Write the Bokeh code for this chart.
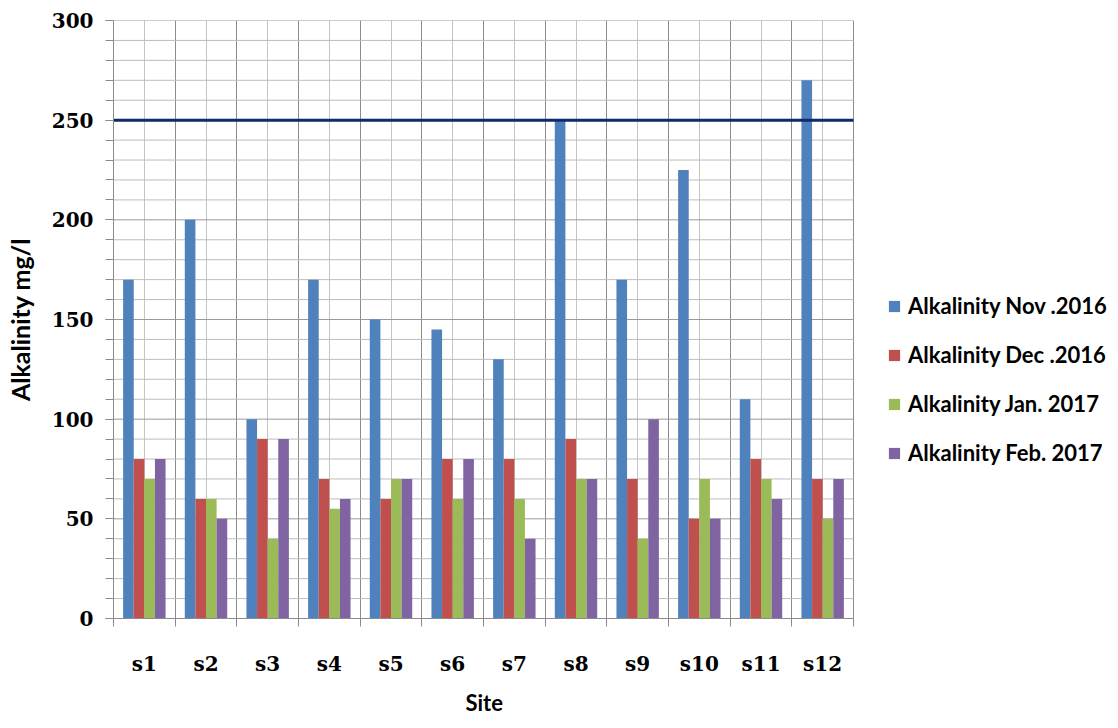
import numpy as np
from bokeh.plotting import figure
from bokeh.models import (ColumnDataSource, FixedTicker, Legend, LegendItem, Range1d, Title)
from bokeh.embed import file_html
from bokeh.resources import INLINE

sites = ["s1", "s2", "s3", "s4", "s5", "s6", "s7", "s8", "s9", "s10", "s11", "s12"]
nov_2016 = [170, 200, 100, 170, 150, 145, 130, 250, 170, 225, 110, 270]
dec_2016 = [80, 60, 90, 70, 60, 80, 80, 90, 70, 50, 80, 70]
jan_2017 = [70, 60, 40, 55, 70, 60, 60, 70, 40, 70, 70, 50]
feb_2017 = [80, 50, 90, 60, 70, 80, 40, 70, 100, 50, 60, 70]
series_names = ["Alkalinity Nov .2016", "Alkalinity Dec .2016",
                "Alkalinity Jan. 2017", "Alkalinity Feb. 2017"]
colors = ["#4F81BD", "#C0504D", "#9BBB59", "#8064A2"]
limit_value = 250
y_ticks = [0, 50, 100, 150, 200, 250, 300]
y_minor = list(range(0, 301, 10))

SANS = "Lato"
SERIF = "DejaVu Serif"

W, H = 1116, 728
LEFT, TOP, BOTTOM = 113, 20, 110
DATA_W = 740  # pixel width of the category area
frame_w = W - LEFT
n = len(sites)
x_end = 0.5 + n * frame_w / DATA_W

p = figure(width=W, height=H, output_backend="svg", toolbar_location=None,
           x_range=Range1d(0.5, x_end), y_range=Range1d(0, 300))
p.min_border_left = LEFT
p.min_border_right = 0
p.min_border_top = TOP
p.min_border_bottom = BOTTOM
p.outline_line_color = None
p.background_fill_color = "white"

centers = np.arange(1, n + 1)
bounds = list(np.arange(0.5, n + 1, 1.0))

# horizontal grid lines limited to the category area
p.ygrid.visible = False
minor_only = [v for v in y_minor if v not in y_ticks]
p.segment(x0=[0.5] * len(minor_only), x1=[n + 0.5] * len(minor_only),
          y0=minor_only, y1=minor_only, line_color="#BDBDBD", line_width=1)
p.segment(x0=[0.5] * len(y_ticks), x1=[n + 0.5] * len(y_ticks),
          y0=y_ticks, y1=y_ticks, line_color="#9A9A9A", line_width=1)

# vertical grid lines
p.xgrid.ticker = FixedTicker(ticks=bounds, minor_ticks=list(centers))
p.xgrid.grid_line_color = "#8C8C8C"
p.xgrid.minor_grid_line_color = "#C4C4C4"

bw = 0.172
offsets = [-1.5 * bw, -0.5 * bw, 0.5 * bw, 1.5 * bw]
items = []
for vals, name, col, off in zip([nov_2016, dec_2016, jan_2017, feb_2017], series_names, colors, offsets):
    src = ColumnDataSource(dict(x=centers + off, top=vals))
    r = p.vbar(x="x", top="top", width=bw, bottom=0, source=src,
               fill_color=col, line_color=None)
    items.append(LegendItem(label=name, renderers=[r]))

# limit line
p.line(x=[0.5, n + 0.5], y=[limit_value, limit_value], line_color="#0D2A6A", line_width=3)

# x axis
p.xaxis.bounds = (0.5, n + 0.5)
p.xaxis.ticker = FixedTicker(ticks=list(centers), minor_ticks=bounds)
p.xaxis.major_label_overrides = {int(c): s for c, s in zip(centers, sites)}
p.xaxis.major_tick_line_color = None
p.xaxis.major_tick_out = 8
p.xaxis.major_tick_in = 0
p.xaxis.minor_tick_out = 8
p.xaxis.minor_tick_in = 0
p.xaxis.minor_tick_line_color = "#8C8C8C"
p.xaxis.axis_line_color = "#8C8C8C"
p.xaxis.major_label_standoff = 25

# x axis title centred under the category area
site_title = Title(text="Site", align="left", offset=DATA_W / 2 - 18,
                   vertical_align="bottom", text_line_height=1.0,
                   text_font=SANS, text_font_style="bold", text_font_size="22px",
                   text_color="black", standoff=16)
p.add_layout(site_title, "below")

# y axis
p.yaxis.ticker = FixedTicker(ticks=y_ticks, minor_ticks=y_minor)
p.yaxis.major_tick_out = 8
p.yaxis.major_tick_in = 0
p.yaxis.minor_tick_out = 8
p.yaxis.minor_tick_in = 0
p.yaxis.major_tick_line_color = "#8C8C8C"
p.yaxis.minor_tick_line_color = "#8C8C8C"
p.yaxis.axis_line_color = "#8C8C8C"
p.yaxis.major_label_standoff = 12
p.yaxis.axis_label = "Alkalinity mg/l"
p.yaxis.axis_label_standoff = 14
p.yaxis.axis_label_text_font_size = "25px"

for ax in (p.xaxis[0], p.yaxis[0]):
    ax.major_label_text_font = SERIF
    ax.major_label_text_font_style = "bold"
    ax.major_label_text_font_size = "20px"
    ax.major_label_text_color = "black"
    ax.axis_label_text_font = SANS
    ax.axis_label_text_font_style = "bold"
    ax.axis_label_text_color = "black"

legend = Legend(items=items, location=(887 - LEFT, 152), orientation="vertical",
                label_text_font=SANS, label_text_font_style="bold",
                label_text_font_size="22px", label_text_color="black",
                glyph_width=14, glyph_height=14, label_height=24,
                spacing=22, padding=0, margin=0, label_standoff=7,
                border_line_color=None, background_fill_alpha=0)
p.add_layout(legend, "center")

open("out.html", "w").write(file_html(p, INLINE))
